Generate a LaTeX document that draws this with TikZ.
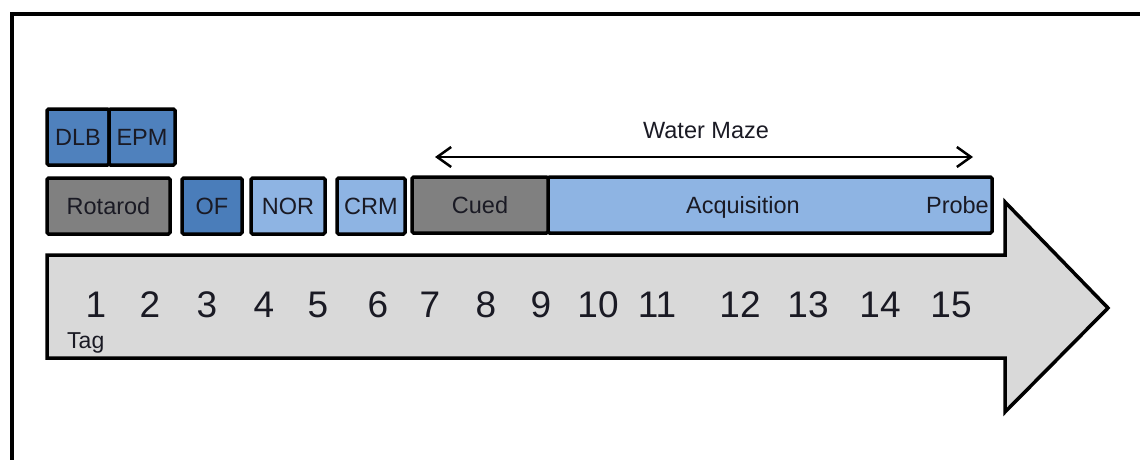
\documentclass[tikz,border=0pt]{standalone}
\usepackage{fontspec}
\setmainfont{Liberation Sans}
\usetikzlibrary{arrows.meta}
\definecolor{midblue}{HTML}{4F81BD}
\definecolor{darkblue}{HTML}{4A7DBA}
\definecolor{lightblue}{HTML}{8EB4E3}
\definecolor{boxgray}{HTML}{808080}
\definecolor{arrowgray}{HTML}{D9D9D9}
\definecolor{txt}{HTML}{1A1A24}
\begin{document}
\begin{tikzpicture}[x=1pt,y=-1pt,
  box/.style={draw=black,line width=3.5pt,rounded corners=1.5pt,inner sep=0pt,
    text=txt,font=\fontsize{23.5}{27}\selectfont,text height=17pt,text depth=0pt},
  num/.style={inner sep=0pt,font=\fontsize{37}{44}\selectfont,text=txt},
  lbl/.style={inner sep=0pt,text=txt,font=\fontsize{23.5}{27}\selectfont,text height=17pt,text depth=0pt},
]
\useasboundingbox (0,0) rectangle (1140,460);
% frame
\draw[line width=4pt] (12,460) -- (12,14) -- (1140,14);
% big timeline arrow
\draw[line width=3.5pt,fill=arrowgray,line join=miter]
  (47,255) -- (1005,255) -- (1005,202) -- (1108,308) -- (1005,412) -- (1005,358) -- (47,358) -- cycle;
% boxes
\node[box,fill=midblue,minimum width=62pt,minimum height=56pt] (dlb) at (78,137) {DLB};
\node[box,fill=midblue,minimum width=66pt,minimum height=56pt] (epm) at (142,137) {EPM};
\node[box,fill=boxgray,minimum width=123pt,minimum height=56pt] (rot) at (108.5,206) {Rotarod};
\node[box,fill=darkblue,minimum width=60pt,minimum height=56pt] (of) at (212,206) {OF};
\node[box,fill=lightblue,minimum width=74pt,minimum height=56pt] (nor) at (288,206) {NOR};
\node[box,fill=lightblue,minimum width=68pt,minimum height=56pt] (crm) at (371,206) {CRM};
\node[box,fill=lightblue,minimum width=444pt,minimum height=56pt] (acq) at (770,205) {Acquisition\kern54pt};
\node[box,fill=boxgray,minimum width=136pt,minimum height=56pt] (cued) at (480,205) {Cued};
\node[lbl,anchor=east] (probe) at (989,205) {Probe};
% water maze
\node[lbl] (wm) at (706,130) {Water Maze};
\coordinate (wmL) at (435,157);
\coordinate (wmR) at (973,157);
\draw[line width=2pt,{Straight Barb[length=14pt,width=20pt,line width=2.5pt]}-{Straight Barb[length=14pt,width=20pt,line width=2.5pt]}] (wmL) -- (wmR);
% day numbers
\foreach \n/\x in {1/96,2/150,3/207,4/264,5/318,6/378,7/430,8/486,9/541,10/598,11/657,12/740,13/808,14/880,15/951}{
  \node[num] (d\n) at (\x,305) {\n};
}
\node[inner sep=0pt,anchor=west,text=txt,font=\fontsize{23}{27}\selectfont] (tag) at (67,343) {Tag};
\end{tikzpicture}
\end{document}
